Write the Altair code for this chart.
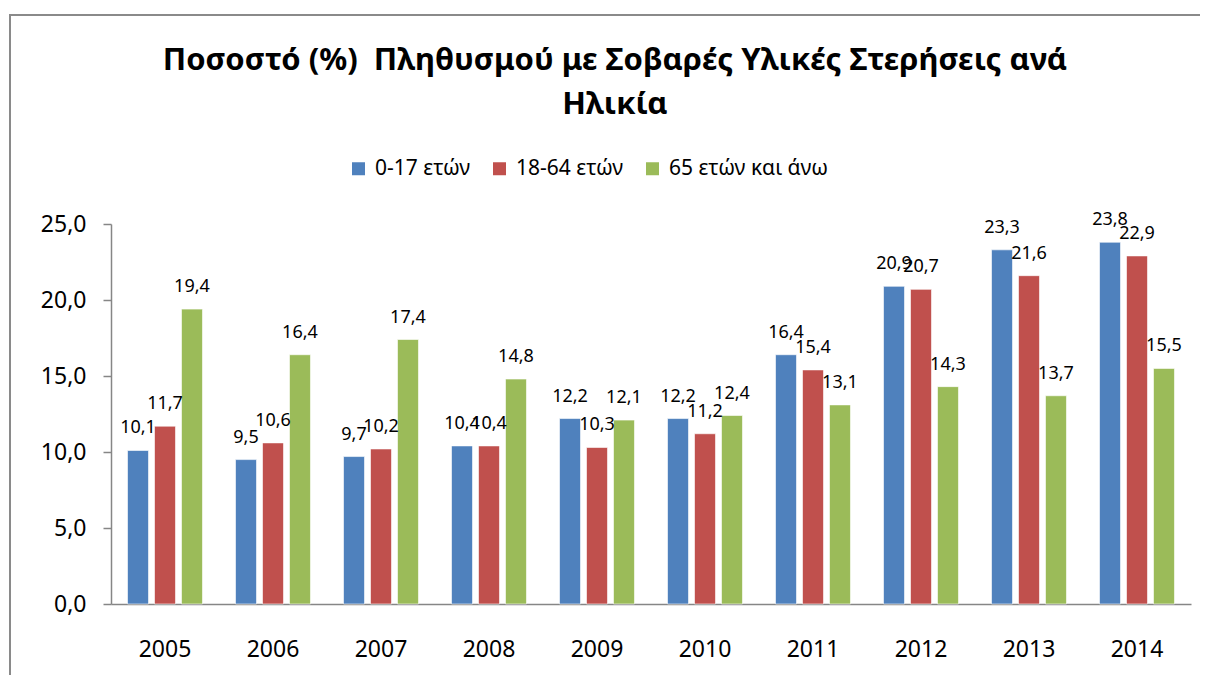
import altair as alt
import pandas as pd

years = ["2005", "2006", "2007", "2008", "2009", "2010", "2011", "2012", "2013", "2014"]
groups = ["0-17 ετών", "18-64 ετών", "65 ετών και άνω"]
colors = ["#4F81BD", "#C0504D", "#9BBB59"]
v_0_17 = [10.1, 9.5, 9.7, 10.4, 12.2, 12.2, 16.4, 20.9, 23.3, 23.8]
v_18_64 = [11.7, 10.6, 10.2, 10.4, 10.3, 11.2, 15.4, 20.7, 21.6, 22.9]
v_65 = [19.4, 16.4, 17.4, 14.8, 12.1, 12.4, 13.1, 14.3, 13.7, 15.5]
y_ticks = [0, 5, 10, 15, 20, 25]
title_lines = ["Ποσοστό (%)\u00a0 Πληθυσμού με Σοβαρές Υλικές Στερήσεις ανά", "Ηλικία"]

rows = []
for g, vals in zip(groups, [v_0_17, v_18_64, v_65]):
    for yr, v in zip(years, vals):
        rows.append({"year": yr, "group": g, "value": v})
df = pd.DataFrame(rows)

FONT = "Noto Sans"
AX = "#868686"

base = alt.Chart(df).transform_calculate(
    label="replace(format(datum.value, '.1f'), '.', ',')"
).encode(
    x=alt.X("year:N", sort=years, title=None,
            scale=alt.Scale(paddingInner=0.306, paddingOuter=0.153),
            axis=alt.Axis(labelAngle=0, ticks=False, domainColor=AX, domainWidth=1.5,
                          labelFontSize=23, labelFont=FONT, labelColor="black",
                          labelBaseline="alphabetic", labelPadding=52)),
    xOffset=alt.XOffset("group:N", sort=groups,
                        scale=alt.Scale(paddingInner=0.222, paddingOuter=0)),
    y=alt.Y("value:Q", title=None,
            scale=alt.Scale(domain=[0, 25], nice=False),
            axis=alt.Axis(values=y_ticks, grid=False, domainColor=AX, domainWidth=1.5,
                          tickColor=AX, tickSize=8, tickWidth=1.5,
                          labelFontSize=23, labelFont=FONT, labelColor="black",
                          labelPadding=17,
                          labelExpr="replace(format(datum.value, '.1f'), '.', ',')")),
)

bars = base.mark_bar(stroke="white", strokeWidth=1, strokeOpacity=0.6).encode(
    color=alt.Color("group:N", sort=groups,
                    scale=alt.Scale(domain=groups, range=colors),
                    legend=alt.Legend(title=None, orient="none", direction="horizontal",
                                      legendX=237, legendY=-66,
                                      symbolType="square", symbolSize=169,
                                      symbolStrokeWidth=0, labelFontSize=21,
                                      labelFont=FONT, labelColor="black", labelLimit=400,
                                      labelOffset=6, columnPadding=18))
)

labels = base.mark_text(baseline="alphabetic", dy=-17, fontSize=18, font=FONT,
                        color="black").encode(text="label:N")

frame_df = pd.DataFrame({"f": [0]})
frame_top = alt.Chart(frame_df).mark_rule(color="#8a8a8a", strokeWidth=2).encode(
    x=alt.value(-102), x2=alt.value(1089), y=alt.value(-209))
frame_left = alt.Chart(frame_df).mark_rule(color="#8a8a8a", strokeWidth=2).encode(
    x=alt.value(-101), y=alt.value(-210), y2=alt.value(451))

chart = alt.layer(frame_top, frame_left, bars, labels).properties(
    width=1080, height=380,
    autosize="none",
    padding={"left": 103, "top": 216, "right": 9, "bottom": 71},
    title=alt.Title(text=title_lines, font=FONT, fontSize=31, fontWeight="bold",
                    color="black", anchor="middle", dx=-36, lineHeight=44, offset=0,
                    baseline="alphabetic", dy=132),
).configure_view(stroke=None)

chart.save("out.html", embed_options={"renderer": "svg", "actions": False})
